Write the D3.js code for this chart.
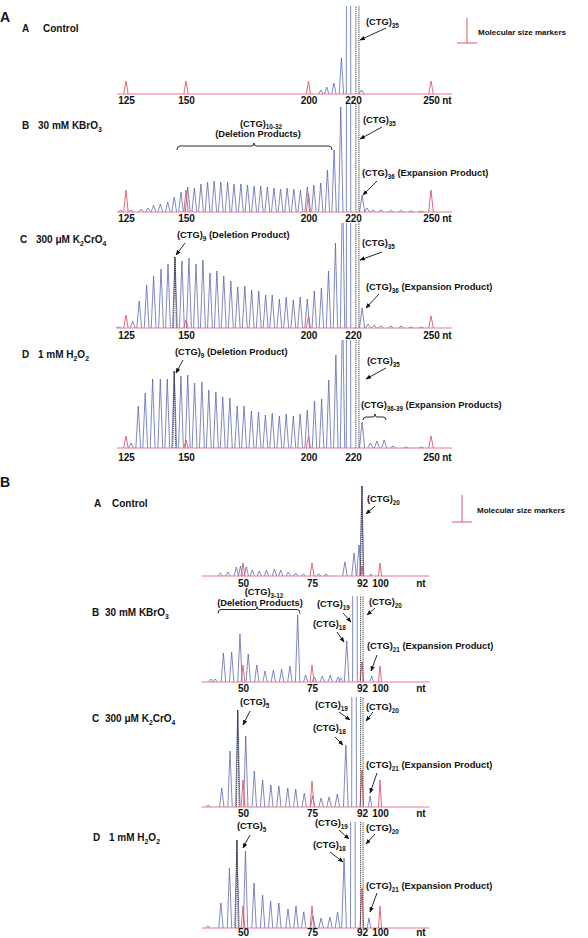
<!DOCTYPE html>
<html>
<head>
<meta charset="utf-8">
<script src="https://cdn.jsdelivr.net/npm/d3@7"></script>
<style>
body { margin: 0; background: #fff; }
text { font-family: "Liberation Sans", Arial, sans-serif; font-weight: bold; fill: #111; }
</style>
</head>
<body>
<div id="chart"></div>
<script>
// ---- data (peaks are [size in nt, signal]) ----
var topTicks = [125, 150, 200, 220, 250];
var bottomTicks = [50, 75, 92, 100];
var topMarkers = [125, 150, 200, 250];
var bottomMarkers = [50, 75, 92, 100];

var topA_markerH = [13, 13, 13, 13];
var topA_peaks = [[205.6,4],[208.2,7],[211.4,11],[214.8,36],[218.0,2000],[223.3,4]];
var topA_dotted = [[221.7,2000]];

var topB_markerH = [22, 22, 19, 22];
var topB_peaks = [[122.9,2],[127.1,2],[131.3,3],[134.2,4],[136.5,7],[139.3,8],[142.4,10],[145.1,15],
  [147.9,20],[150.7,25],[153.4,24],[156.1,28],[158.8,30],[161.5,31],[164.2,30],[167.0,30],[169.6,28],
  [172.4,28],[175.1,27],[177.8,26],[180.5,26],[183.2,25],[185.9,24],[188.6,23],[191.3,24],[194.0,23],
  [196.7,22],[199.5,25],[202.4,27],[205.5,29],[208.5,42],[211.5,62],[214.5,105],[218.0,2000],
  [223.5,17],[225.4,4],[227.7,2],[230.8,2],[234.6,1.5],[238.5,1.5],[242.3,1],[246.2,1]];
var topB_dotted = [[221.7,2000]];

var topC_markerH = [13, 8, 12, 12];
var topC_peaks = [[122.1,1],[127.8,7],[130.5,27],[133.6,43],[136.5,52],[139.6,59],[142.5,64],[145.4,71],
  [148.3,67],[151.2,70],[154.1,64],[156.9,68],[159.8,55],[162.6,57],[165.4,52],[168.3,47],[171.1,41],
  [174.0,42],[176.8,38],[179.7,37],[182.5,33],[185.2,33],[188.1,29],[190.9,31],[193.8,28],[196.6,31],
  [199.5,29],[202.6,37],[205.8,40],[209.0,57],[212.1,85],[215.3,140],[218.0,2000],[223.5,20],
  [225.8,4],[228.1,3],[230.8,2],[234.6,2],[238.5,2],[242.3,1],[246.2,1]];
var topC_dotted = [[145.4,71],[221.7,2000]];

var topD_markerH = [12, 8, 12, 12];
var topD_peaks = [[127.1,5],[130.1,42],[133.0,55],[136.1,69],[139.3,69],[142.2,69],[145.1,77],[147.9,72],
  [150.7,73],[153.5,65],[156.5,66],[159.3,58],[162.2,56],[165.0,51],[167.9,50],[170.9,42],[173.7,42],
  [176.7,37],[179.6,36],[182.4,33],[185.2,35],[188.1,32],[190.9,34],[193.8,32],[196.6,34],[199.5,38],
  [202.7,47],[205.9,49],[209.1,68],[212.3,93],[215.3,140],[218.0,2000],[223.5,26],[226.7,5],
  [229.2,7],[232.0,8],[235.4,2],[240.4,1],[246.2,1]];
var topD_dotted = [[145.1,77],[221.7,2000]];

var botA_markerH = [13, 13, 10, 13];
var botA_peaks = [[41.8,3],[44.5,4],[47.6,9],[49.1,10],[51.2,9],[53.4,6],[55.9,5],[58.5,6],[61.4,7],
  [63.7,6],[66.4,4],[69.1,3],[71.9,2],[77.3,2],[79.8,2],[86.2,14],[89.3,23],[91.0,31],[92.0,90],[96.0,2]];
var botA_dotted = [[92.0,90]];

var botB_markerH = [17, 17, 20, 16];
var botB_peaks = [[38.4,3],[39.9,3],[42.9,29],[45.9,30],[48.9,48],[51.9,28],[55.0,17],[58.0,11],[61.0,12],
  [64.0,13],[67.0,16],[69.8,67],[72.7,7],[75.8,5],[78.5,6],[81.2,7],[83.9,5],[84.8,4],[86.8,41],
  [89.6,2000],[96.3,6]];
var botB_dotted = [[92.0,2000]];

var botC_markerH = [27, 26, 37, 27];
var botC_peaks = [[37.4,2],[42.3,19],[45.3,56],[48.1,97],[51.0,71],[54.1,36],[57.1,27],[60.1,22],[63.0,21],
  [66.2,19],[69.1,18],[72.2,14],[75.2,11],[78.1,9],[80.8,10],[83.6,13],[86.5,62],[89.3,2000],[95.6,11]];
var botC_dotted = [[48.1,97],[92.0,2000]];

var botD_markerH = [22, 22, 40, 22];
var botD_peaks = [[37.3,2],[42.0,25],[45.1,60],[47.8,88],[50.9,77],[54.0,45],[57.1,33],[60.0,27],[63.0,25],
  [66.3,19],[69.2,22],[72.0,16],[75.3,12],[78.1,10],[81.1,11],[83.7,16],[85.9,70],[88.9,2000],[95.1,10]];
var botD_dotted = [[47.8,88],[92.0,2000]];

// ---- layout ----
var W = 588, H = 938;
var svg = d3.select("#chart").append("svg").attr("width", W).attr("height", H);

svg.append("defs").append("marker")
    .attr("id", "arr").attr("viewBox", "0 0 10 10")
    .attr("refX", 9).attr("refY", 5)
    .attr("markerWidth", 6).attr("markerHeight", 6)
    .attr("orient", "auto")
    .append("path").attr("d", "M0,1L10,5L0,9z").attr("fill", "#111");

var xTop = d3.scaleLinear()
    .domain([121.5, 125, 150, 200, 220, 250, 258])
    .range([117, 126, 186, 308.5, 353, 431, 452]);
var xBot = d3.scaleLinear()
    .domain([35, 50, 75, 92, 100, 122])
    .range([201.6, 243, 312, 362, 380, 429.5]);

var panels = [
  {x: xTop, ticks: topTicks, markers: topMarkers, base: 94,  clip: 6,   pad: 2.5, nt: 447, w: 1.0, mw: 0.9, peaks: topA_peaks, markerH: topA_markerH, dotted: topA_dotted},
  {x: xTop, ticks: topTicks, markers: topMarkers, base: 212, clip: 104, pad: 2.5, nt: 447, w: 1.0, mw: 0.9, peaks: topB_peaks, markerH: topB_markerH, dotted: topB_dotted},
  {x: xTop, ticks: topTicks, markers: topMarkers, base: 328, clip: 223, pad: 3.5, nt: 447, w: 1.0, mw: 0.9, peaks: topC_peaks, markerH: topC_markerH, dotted: topC_dotted},
  {x: xTop, ticks: topTicks, markers: topMarkers, base: 448, clip: 340, pad: 5.5, nt: 447, w: 1.0, mw: 0.9, peaks: topD_peaks, markerH: topD_markerH, dotted: topD_dotted},
  {x: xBot, ticks: bottomTicks, markers: bottomMarkers, base: 576, clip: 480, pad: 3.5, nt: 421, w: 0.8, mw: 0.7, peaks: botA_peaks, markerH: botA_markerH, dotted: botA_dotted},
  {x: xBot, ticks: bottomTicks, markers: bottomMarkers, base: 682, clip: 596, pad: 2.5, nt: 421, w: 0.8, mw: 0.7, peaks: botB_peaks, markerH: botB_markerH, dotted: botB_dotted},
  {x: xBot, ticks: bottomTicks, markers: bottomMarkers, base: 807, clip: 697, pad: 2.5, nt: 421, w: 0.8, mw: 0.7, peaks: botC_peaks, markerH: botC_markerH, dotted: botC_dotted},
  {x: xBot, ticks: bottomTicks, markers: bottomMarkers, base: 928, clip: 822, pad: 0.5, nt: 421, w: 0.8, mw: 0.7, peaks: botD_peaks, markerH: botD_markerH, dotted: botD_dotted}
];

panels.forEach(function(p, i) {
  var x = p.x;
  var dom = x.domain();
  var y = d3.scaleLinear().domain([0, 100]).range([p.base, p.base - 100]);
  var line = d3.line().x(function(d) { return x(d[0]); }).y(function(d) { return y(d[1]); });
  var spike = function(nt, h, w) { return line([[nt - w, 0], [nt, h], [nt + w, 0]]); };

  svg.append("clipPath").attr("id", "clip" + i)
    .append("rect")
    .attr("x", x(dom[0]) - 2).attr("y", p.clip)
    .attr("width", x(dom[dom.length - 1]) - x(dom[0]) + 4)
    .attr("height", p.base - p.clip + 1.5);

  var g = svg.append("g").attr("clip-path", "url(#clip" + i + ")");

  // blue trace peaks
  g.selectAll("path.blue").data(p.peaks).enter().append("path")
      .attr("class", "blue")
      .attr("d", function(d) { return spike(d[0], d[1], p.w); })
      .attr("fill", "none").attr("stroke", "#5461ab").attr("stroke-width", 0.75);

  // size markers
  g.selectAll("path.red").data(p.markers).enter().append("path")
      .attr("class", "red")
      .attr("d", function(d, j) { return spike(d, p.markerH[j], p.mw); })
      .attr("fill", "none").attr("stroke", "#e2576e").attr("stroke-width", 0.9);

  // highlighted peaks (dotted)
  g.selectAll("path.dot").data(p.dotted).enter().append("path")
      .attr("class", "dot")
      .attr("d", function(d) { return spike(d[0], d[1], p.w * 0.6); })
      .attr("fill", "none").attr("stroke", "#222").attr("stroke-width", 0.9)
      .attr("stroke-dasharray", "1.2,0.9");

  // baseline
  svg.append("path")
      .attr("d", line([[dom[0], 0], [dom[dom.length - 1], 0]]))
      .attr("stroke", "#e77b8c").attr("stroke-width", 1.1).attr("fill", "none");

  var ax = svg.append("g")
      .attr("transform", "translate(0," + p.base + ")")
      .call(d3.axisBottom(x).tickValues(p.ticks).tickSize(0).tickPadding(p.pad).tickFormat(d3.format("d")));
  ax.select(".domain").remove();
  ax.selectAll("text")
      .attr("font-family", "Liberation Sans, Arial, sans-serif")
      .attr("font-weight", "bold").attr("font-size", 10).attr("fill", "#111");
  svg.append("text").attr("x", p.nt).attr("y", p.base + p.pad + 7.1)
      .attr("font-size", 10).attr("text-anchor", "middle").text("nt");
});

// ---- text helpers ----
function rich(x, y, parts, size, anchor) {
  var t = svg.append("text").attr("x", x).attr("y", y)
      .attr("font-size", size).attr("text-anchor", anchor || "start");
  var down = false;
  parts.forEach(function(s) {
    var sub = s.charAt(0) === "_";
    var txt = sub ? s.slice(1) : s;
    var ts = t.append("tspan").text(txt);
    if (sub) { ts.attr("font-size", size * 0.68); if (!down) { ts.attr("dy", size * 0.3); down = true; } }
    else if (down) { ts.attr("dy", -size * 0.3); down = false; }
  });
  return t;
}
function arrow(x1, y1, x2, y2) {
  svg.append("line").attr("x1", x1).attr("y1", y1).attr("x2", x2).attr("y2", y2)
      .attr("stroke", "#111").attr("stroke-width", 0.9).attr("marker-end", "url(#arr)");
}
function bracket(x1, x2, y, mid, drop) {
  svg.append("path")
      .attr("d", "M" + x1 + "," + (y + drop) + "Q" + x1 + "," + y + " " + (x1 + 3) + "," + y +
                 "L" + (mid - 2) + "," + y + "Q" + mid + "," + y + " " + mid + "," + (y - 3) +
                 "Q" + mid + "," + y + " " + (mid + 2) + "," + y +
                 "L" + (x2 - 3) + "," + y + "Q" + x2 + "," + y + " " + x2 + "," + (y + drop))
      .attr("fill", "none").attr("stroke", "#111").attr("stroke-width", 0.9);
}
function legend(x, y0, y1, tx, ty) {
  svg.append("path").attr("d", "M" + x + "," + y0 + "L" + x + "," + y1 + "M" + (x - 10) + "," + y1 + "L" + (x + 10) + "," + y1)
      .attr("stroke", "#e2576e").attr("stroke-width", 1).attr("fill", "none");
  svg.append("text").attr("x", tx).attr("y", ty).attr("font-size", 8).text("Molecular size markers");
}

var fs = 9.3;

// section A
svg.append("text").attr("x", 0).attr("y", 22).attr("font-size", 14).text("A");
legend(467, 18, 43, 478, 35);
svg.append("text").attr("x", 22).attr("y", 32).attr("font-size", 10).text("A");
svg.append("text").attr("x", 43).attr("y", 32).attr("font-size", 10).text("Control");
rich(366, 25, ["(CTG)", "_35"], fs);
arrow(386, 28, 360, 40);

svg.append("text").attr("x", 22).attr("y", 129).attr("font-size", 10).text("B");
rich(38, 129, ["30 mM KBrO", "_3"], 10);
rich(261, 126.5, ["(CTG)", "_10-32"], fs, "middle");
rich(258, 137, ["(Deletion Products)"], fs, "middle");
bracket(177, 332, 146, 254, 4);
rich(363, 123, ["(CTG)", "_35"], fs);
arrow(382, 127, 360, 139);
rich(362, 176, ["(CTG)", "_36", " (Expansion Product)"], fs);
arrow(377, 181, 363, 195);

svg.append("text").attr("x", 20).attr("y", 243).attr("font-size", 10).text("C");
rich(36, 243, ["300 \u03bcM K", "_2", "CrO", "_4"], 10);
rich(177, 238, ["(CTG)", "_9", " (Deletion Product)"], fs);
arrow(185, 243, 176, 255);
rich(362, 246, ["(CTG)", "_35"], fs);
arrow(382, 252, 360, 260);
rich(366, 290, ["(CTG)", "_36", " (Expansion Product)"], fs);
arrow(379, 294, 366, 308);

svg.append("text").attr("x", 22).attr("y", 358).attr("font-size", 10).text("D");
rich(38, 358, ["1 mM H", "_2", "O", "_2"], 10);
rich(175, 355, ["(CTG)", "_9", " (Deletion Product)"], fs);
arrow(183, 360, 176, 373);
rich(367, 364, ["(CTG)", "_35"], fs);
arrow(386, 368, 366, 379);
rich(361, 408, ["(CTG)", "_36-39", " (Expansion Products)"], fs);
bracket(363, 386, 417, 375, 3);

// section B
svg.append("text").attr("x", 0).attr("y", 487).attr("font-size", 14).text("B");
legend(462, 495, 522, 477, 513);
svg.append("text").attr("x", 94).attr("y", 507).attr("font-size", 10).text("A");
svg.append("text").attr("x", 112).attr("y", 507).attr("font-size", 10).text("Control");
rich(367, 502, ["(CTG)", "_20"], fs);
arrow(375, 506, 366, 514);

rich(264, 595, ["(CTG)", "_3-12"], fs, "middle");
rich(260, 606, ["(Deletion Products)"], fs, "middle");
bracket(218, 300, 609.5, 257, 4);
svg.append("text").attr("x", 92).attr("y", 616).attr("font-size", 10).text("B");
rich(105, 616, ["30 mM KBrO", "_3"], 10);
rich(317, 607, ["(CTG)", "_19"], fs);
arrow(343, 613, 351, 622);
rich(369, 605, ["(CTG)", "_20"], fs);
arrow(375, 608, 367, 615);
rich(313, 627, ["(CTG)", "_18"], fs);
arrow(337, 632, 344, 642);
rich(367, 649, ["(CTG)", "_21", " (Expansion Product)"], fs);
arrow(377, 655, 371, 671);

svg.append("text").attr("x", 92).attr("y", 722).attr("font-size", 10).text("C");
rich(105, 722, ["300 \u03bcM K", "_2", "CrO", "_4"], 10);
rich(240, 705, ["(CTG)", "_5"], fs);
arrow(250, 711, 243, 725);
rich(315, 708, ["(CTG)", "_19"], fs);
arrow(339, 712, 350, 720);
rich(366, 710, ["(CTG)", "_20"], fs);
arrow(373, 712, 366, 721);
rich(313, 731, ["(CTG)", "_18"], fs);
arrow(335, 737, 343, 745);
rich(366, 768, ["(CTG)", "_21", " (Expansion Product)"], fs);
arrow(377, 773, 370, 793);

svg.append("text").attr("x", 93).attr("y", 841).attr("font-size", 10).text("D");
rich(109, 841, ["1 mM H", "_2", "O", "_2"], 10);
rich(237, 829, ["(CTG)", "_5"], fs);
arrow(250, 835, 243, 848);
rich(315, 826, ["(CTG)", "_19"], fs);
arrow(339, 830, 349, 839);
rich(366, 831, ["(CTG)", "_20"], fs);
arrow(375, 834, 366, 844);
rich(313, 848, ["(CTG)", "_18"], fs);
arrow(330, 852, 343, 862);
rich(366, 889, ["(CTG)", "_21", " (Expansion Product)"], fs);
arrow(377, 893, 370, 912);
</script>
</body>
</html>
